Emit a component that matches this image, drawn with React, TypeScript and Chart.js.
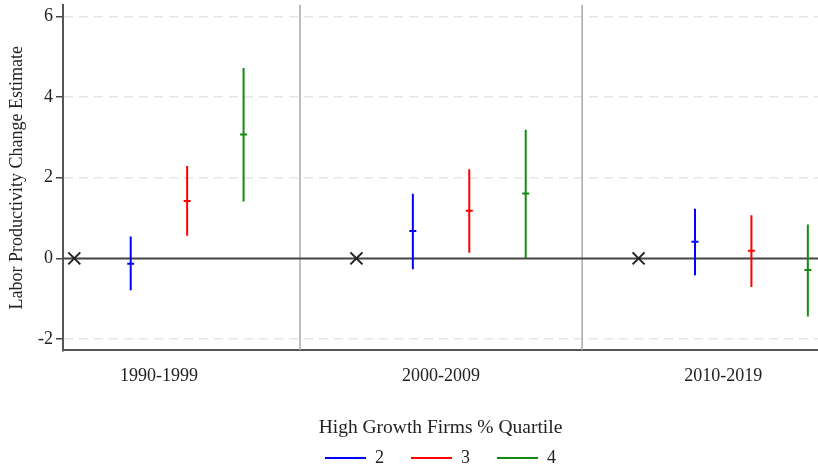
import { useEffect, useRef } from "react";
import { Chart, registerables } from "chart.js";

Chart.register(...registerables);

const periods = ["1990-1999", "2000-2009", "2010-2019"];
const quartiles = ["2", "3", "4"];
const colors = ["#0000ff", "#ff0000", "#138a13"];

// Base quartile (1) reference estimates, one per period
const baseEst = [0, 0, 0];
// Quartile 2
const q2Est = [-0.13, 0.68, 0.41];
const q2Low = [-0.79, -0.27, -0.42];
const q2High = [0.54, 1.6, 1.23];
// Quartile 3
const q3Est = [1.42, 1.18, 0.19];
const q3Low = [0.56, 0.14, -0.71];
const q3High = [2.29, 2.21, 1.07];
// Quartile 4
const q4Est = [3.07, 1.61, -0.29];
const q4Low = [1.41, 0.01, -1.44];
const q4High = [4.72, 3.19, 0.84];

const yTicks = [-2, 0, 2, 4, 6];
const yMin = -2.28;
const yMax = 6.28;
const xMin = -0.2;
const xMax = 13.18;
const groupWidth = 5;
const separators = [4, 9];

const FONT = "'Liberation Serif', 'Times New Roman', serif";
const TEXT = "#222";

const seriesEst = [q2Est, q3Est, q4Est];
const seriesLow = [q2Low, q3Low, q4Low];
const seriesHigh = [q2High, q3High, q4High];

export default function App() {
  const ref = useRef<HTMLCanvasElement | null>(null);

  useEffect(() => {
    if (!ref.current) return;
    const datasets: any[] = [];

    quartiles.forEach((q, qi) => {
      const pts: any[] = [];
      periods.forEach((_, p) => {
        const x = p * groupWidth + qi + 1;
        pts.push({ x, y: seriesLow[qi][p] });
        pts.push({ x, y: seriesHigh[qi][p] });
        pts.push({ x, y: null });
      });
      datasets.push({
        label: q,
        data: pts,
        borderColor: colors[qi],
        backgroundColor: colors[qi],
        borderWidth: 2,
        pointRadius: 0,
        spanGaps: false,
        fill: false,
        order: 2,
      });
    });

    quartiles.forEach((q, qi) => {
      datasets.push({
        label: "est" + q,
        data: periods.map((_, p) => ({ x: p * groupWidth + qi + 1, y: seriesEst[qi][p] })),
        showLine: false,
        pointStyle: "line",
        pointRadius: 3.5,
        pointBorderWidth: 2,
        pointBorderColor: colors[qi],
        pointBackgroundColor: colors[qi],
        order: 1,
      });
    });

    datasets.push({
      label: "base",
      data: periods.map((_, p) => ({ x: p * groupWidth, y: baseEst[p] })),
      showLine: false,
      pointStyle: "crossRot",
      pointRadius: 8.5,
      pointBorderWidth: 2,
      pointBorderColor: "#222",
      pointBackgroundColor: "#222",
      order: 1,
    });

    datasets.push({
      label: "zero",
      data: [
        { x: xMin, y: 0 },
        { x: xMax, y: 0 },
      ],
      borderColor: "#444",
      borderWidth: 2,
      pointRadius: 0,
      order: 5,
    });

    const sepPts: any[] = [];
    separators.forEach((s) => {
      sepPts.push({ x: s, y: yMin });
      sepPts.push({ x: s, y: yMax });
      sepPts.push({ x: s, y: null });
    });
    datasets.push({
      label: "sep",
      data: sepPts,
      borderColor: "#a8a8a8",
      borderWidth: 1.5,
      pointRadius: 0,
      spanGaps: false,
      order: 6,
    });

    const chart = new Chart(ref.current, {
      type: "line",
      data: { datasets },
      options: {
        animation: false,
        responsive: false,
        layout: { autoPadding: false, padding: { top: 5, right: 0, left: 0, bottom: -12 } },
        plugins: {
          tooltip: { enabled: false },
          legend: {
            position: "bottom",
            fullSize: false,
            title: {
              display: true,
              text: "High Growth Firms % Quartile",
              font: { family: FONT, size: 19.5 },
              color: TEXT,
              padding: { top: 16, bottom: -19.4 },
            },
            labels: {
              boxWidth: 41,
              boxHeight: 2,
              padding: 27,
              color: TEXT,
              font: { family: FONT, size: 18 },
              generateLabels: () =>
                quartiles.map((q, i) => ({
                  text: q,
                  fillStyle: colors[i],
                  strokeStyle: colors[i],
                  lineWidth: 0,
                  hidden: false,
                  datasetIndex: i,
                  fontColor: TEXT,
                })),
            },
          },
        },
        scales: {
          x: {
            type: "linear",
            min: xMin,
            max: xMax,
            afterBuildTicks: (s: any) => {
              s.ticks = periods.map((_, i) => ({ value: i * groupWidth + 1.5 }));
            },
            ticks: {
              callback: (_v: any, i: number) => periods[i],
              font: { family: FONT, size: 18 },
              color: TEXT,
              padding: 15,
              maxRotation: 0,
              autoSkip: false,
            },
            grid: { display: false, drawTicks: false },
            border: { display: true, color: "#555", width: 2 },
          },
          y: {
            min: yMin,
            max: yMax,
            afterBuildTicks: (s: any) => {
              s.ticks = yTicks.map((v) => ({ value: v }));
            },
            afterFit: (s: any) => {
              s.width = 63;
              s.paddingTop = 0;
              s.paddingBottom = 0;
            },
            ticks: {
              font: { family: FONT, size: 18 },
              color: TEXT,
              padding: 3,
            },
            grid: {
              color: (c: any) => (c.tick && c.tick.value === 0 ? "rgba(0,0,0,0)" : "#e6e6e6"),
              lineWidth: 1.5,
              tickColor: "#444",
              tickLength: 7,
              tickWidth: 1.5,
            },
            border: { display: true, color: "#555", width: 2, dash: [9, 6] },
            title: {
              display: true,
              text: "Labor Productivity Change Estimate",
              font: { family: FONT, size: 18 },
              color: TEXT,
              padding: { top: 6, bottom: 0 },
            },
          },
        },
      } as any,
    });
    return () => chart.destroy();
  }, []);

  return (
    <div style={{ position: "absolute", left: 0, top: 0, width: 818, height: 465 }}>
      <canvas ref={ref} width={818} height={465} style={{ display: "block" }} />
    </div>
  );
}
